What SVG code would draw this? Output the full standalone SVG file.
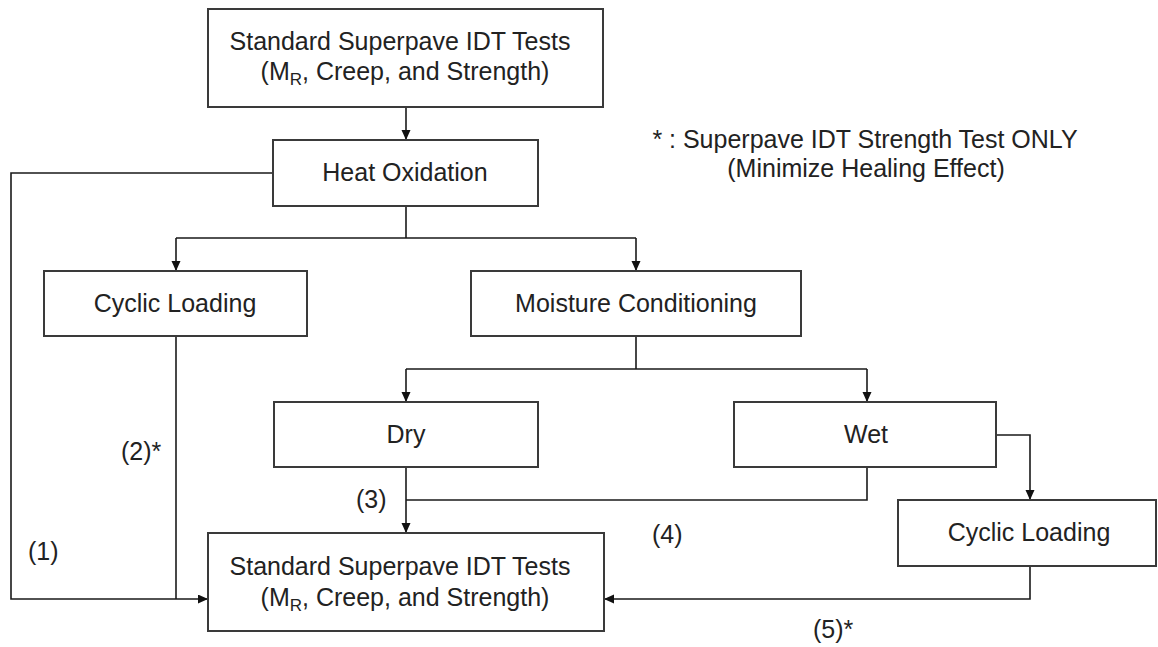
<svg xmlns="http://www.w3.org/2000/svg" width="1158" height="647" viewBox="0 0 1158 647">
<style>
.box{fill:#fff;stroke:#3a3a3a;stroke-width:2}
.t{font-family:"Liberation Sans",Arial,sans-serif;font-size:25px;fill:#222;text-anchor:middle}
.lbl{font-family:"Liberation Sans",Arial,sans-serif;font-size:25px;fill:#222}
.c{fill:none;stroke:#1a1a1a;stroke-width:1.6}
</style>
<defs>
<marker id="ah" markerUnits="userSpaceOnUse" markerWidth="10" markerHeight="10" refX="10" refY="4.5" orient="auto">
<path d="M0,0 L10,4.5 L0,9 z" fill="#111"/>
</marker>
</defs>
<rect width="1158" height="647" fill="#fff"/>
<g id="connectors">
<path class="c" d="M406,107 V140" marker-end="url(#ah)"/>
<path class="c" d="M406,206 V238 M176,238 H636"/>
<path class="c" d="M176,238 V271" marker-end="url(#ah)"/>
<path class="c" d="M636,238 V271" marker-end="url(#ah)"/>
<path class="c" d="M273,173 H11 V599 H208" marker-end="url(#ah)"/>
<path class="c" d="M176,336 V599"/>
<path class="c" d="M636,336 V369 M406,369 H867"/>
<path class="c" d="M406,369 V402" marker-end="url(#ah)"/>
<path class="c" d="M867,369 V402" marker-end="url(#ah)"/>
<path class="c" d="M406,467 V533" marker-end="url(#ah)"/>
<path class="c" d="M867,467 V500 H406"/>
<path class="c" d="M996,435 H1030 V500" marker-end="url(#ah)"/>
<path class="c" d="M1030,566 V599 H604" marker-end="url(#ah)"/>
</g>
<g id="top-tests">
<rect class="box" x="208" y="9" width="395" height="98"/>
<text class="t" x="400" y="50">Standard Superpave IDT Tests</text>
<text class="t" x="405" y="80">(M<tspan font-size="17" dy="5">R</tspan><tspan dy="-5">, Creep, and Strength)</tspan></text>
</g>
<g id="heat-oxidation">
<rect class="box" x="273" y="140" width="265" height="66"/>
<text class="t" x="405" y="181">Heat Oxidation</text>
</g>
<g id="cyclic-loading-1">
<rect class="box" x="44" y="271" width="263" height="65"/>
<text class="t" x="175" y="312">Cyclic Loading</text>
</g>
<g id="moisture-conditioning">
<rect class="box" x="471" y="271" width="330" height="65"/>
<text class="t" x="636" y="312">Moisture Conditioning</text>
</g>
<g id="dry">
<rect class="box" x="274" y="402" width="264" height="65"/>
<text class="t" x="406" y="443">Dry</text>
</g>
<g id="wet">
<rect class="box" x="734" y="402" width="262" height="65"/>
<text class="t" x="866" y="443">Wet</text>
</g>
<g id="cyclic-loading-2">
<rect class="box" x="898" y="500" width="258" height="66"/>
<text class="t" x="1029" y="541">Cyclic Loading</text>
</g>
<g id="bottom-tests">
<rect class="box" x="208" y="533" width="396" height="98"/>
<text class="t" x="400" y="575">Standard Superpave IDT Tests</text>
<text class="t" x="405" y="606">(M<tspan font-size="17" dy="5">R</tspan><tspan dy="-5">, Creep, and Strength)</tspan></text>
</g>
<g id="labels">
<text class="lbl" x="28" y="560">(1)</text>
<text class="lbl" x="121" y="460">(2)*</text>
<text class="lbl" x="356" y="508">(3)</text>
<text class="lbl" x="652" y="543">(4)</text>
<text class="lbl" x="813" y="638">(5)*</text>
<text class="t" x="865" y="148">* : Superpave IDT Strength Test ONLY</text>
<text class="t" x="866" y="177">(Minimize Healing Effect)</text>
</g>
</svg>
